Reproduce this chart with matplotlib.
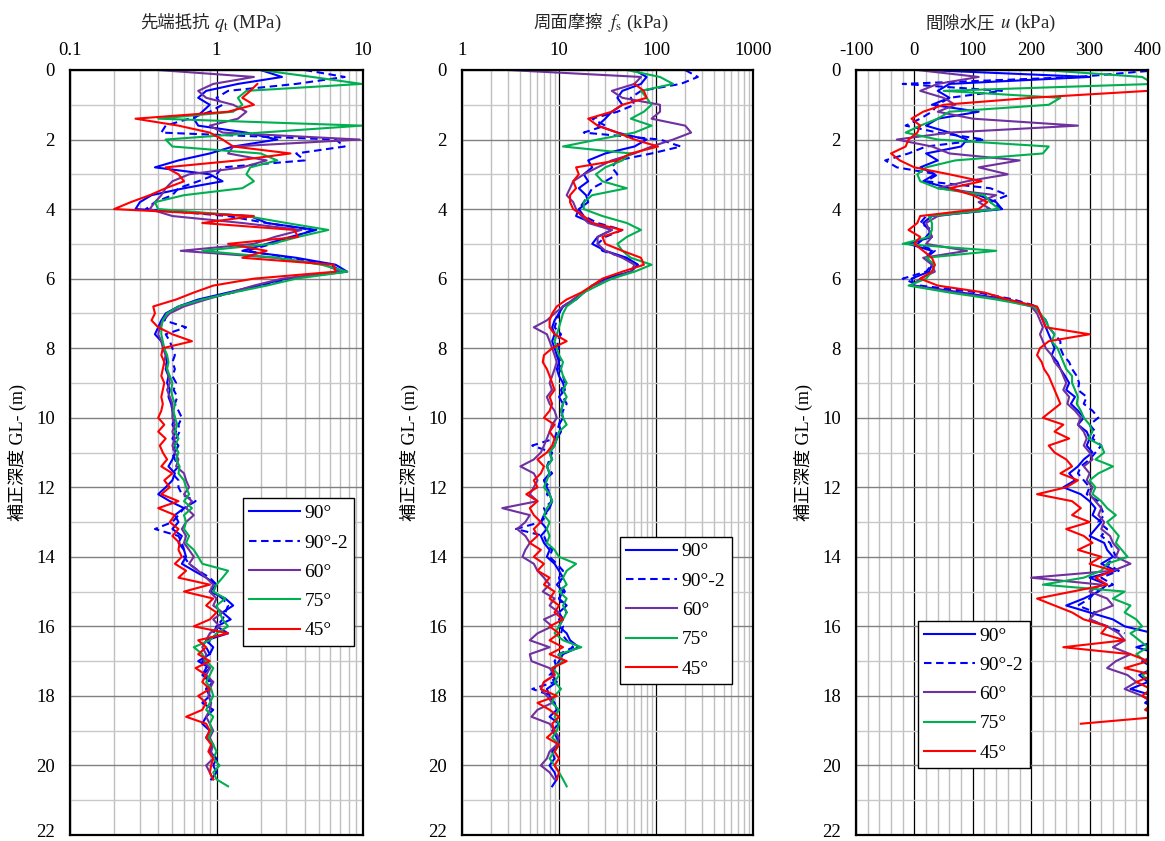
import numpy as np
import matplotlib.pyplot as plt
from matplotlib.ticker import FixedLocator, LogLocator, MultipleLocator, NullFormatter, FuncFormatter

plt.rcParams['font.family'] = ['Liberation Serif', 'Noto Sans CJK JP']
plt.rcParams['mathtext.fontset'] = 'stix'
plt.rcParams['axes.unicode_minus'] = False

# sounding depth (m), 0.2 m spacing
depth = np.round(np.arange(0, 20.61, 0.2), 1)

labels = ['90°', '90°-2', '60°', '75°', '45°']

# ---- cone resistance qt (MPa) ----
qt_90 = [
    2.0, 2.8, 1.4, 0.85, 0.75, 0.9, 0.8, 0.7, 0.75, 1.6,
    2.6, 1.3, 0.9, 0.55, 0.38, 0.9, 1.1, 0.6, 0.36, 0.3,
    0.28, 1.7, 2.2, 4.8, 3.2, 2.2, 1.5, 3.5, 6.5, 7.8,
    3.0, 1.9, 1.2, 0.75, 0.55, 0.45, 0.42, 0.40, 0.38, 0.42,
    0.44, 0.45, 0.46, 0.45, 0.47, 0.46, 0.48, 0.47, 0.49, 0.50,
    0.52, 0.50, 0.53, 0.50, 0.55, 0.52, 0.50, 0.47, 0.52, 0.50,
    0.45, 0.40, 0.48, 0.60, 0.52, 0.55, 0.50, 0.58, 0.55, 0.60,
    0.62, 0.58, 0.70, 0.85, 1.0, 0.9, 1.15, 1.3, 1.1, 1.25,
    1.0, 1.2, 0.85, 0.95, 0.9, 0.75, 0.9, 0.8, 0.95, 0.85,
    0.9, 0.8, 0.95, 0.85, 0.8, 0.9, 0.85, 0.95, 0.9, 1.0,
    0.95, 1.0, 0.92]
qt_90b = [
    4.0, 7.5, 3.5, 1.2, 1.0, 1.1, 0.9, 0.65, 0.45, 0.42,
    6.5, 7.5, 3.5, 4.0, 1.1, 1.0, 0.75, 0.55, 0.5, 0.38,
    0.33, 1.2, 2.2, 4.5, 3.4, 2.4, 1.6, 3.2, 6.0, 7.2,
    3.2, 2.0, 1.3, 0.8, 0.55, 0.47, 0.44, 0.62, 0.45, 0.48,
    0.5, 0.52, 0.5, 0.52, 0.5, 0.53, 0.51, 0.54, 0.52, 0.55,
    0.58, 0.55, 0.56, 0.53, 0.52, 0.5, 0.52, 0.55, 0.5, 0.55,
    0.55, 0.58, 0.72, 0.6, 0.55, 0.5, 0.38, 0.55, 0.58, 0.6,
    0.6, 0.65, 0.75, 0.9, 1.0, 0.95, 1.1, 1.2, 1.15, 1.1,
    1.0, 0.95, 0.9, 0.85, 0.9, 0.8, 0.85, 0.8, 0.9, 0.85,
    0.9]
qt_60 = [
    0.4, 1.8, 0.95, 0.75, 0.85, 1.3, 1.6, 1.4, 0.9, 1.1,
    9.5, 1.3, 1.2, 2.2, 1.5, 0.65, 0.5, 0.45, 0.42, 0.38,
    0.35, 0.5, 1.5, 3.8, 2.5, 1.8, 0.57, 2.5, 5.5, 7.0,
    2.8, 1.8, 1.25, 0.85, 0.6, 0.48, 0.43, 0.41, 0.4, 0.42,
    0.43, 0.45, 0.44, 0.46, 0.47, 0.48, 0.46, 0.48, 0.5, 0.5,
    0.5, 0.52, 0.5, 0.52, 0.5, 0.52, 0.55, 0.53, 0.6, 0.62,
    0.65, 0.6, 0.68, 0.62, 0.7, 0.62, 0.58, 0.62, 0.6, 0.65,
    0.7, 0.65, 0.75, 0.85, 0.95, 0.9, 1.0, 0.95, 1.1, 0.95,
    1.05, 0.9, 0.85, 0.8, 0.85, 0.82, 0.9, 0.85, 0.95, 0.9,
    0.88, 0.92, 0.9, 0.85, 0.9, 0.95, 0.9, 0.95, 0.92, 0.95,
    0.85, 0.9, 0.95]
qt_75 = [
    2.0, 4.5, 9.8, 1.6, 1.4, 1.5, 1.3, 0.4, 9.8, 2.0,
    0.45, 0.5, 2.0, 2.6, 1.7, 1.6, 1.8, 1.5, 0.6, 0.38,
    0.4, 1.6, 3.0, 5.8, 3.6, 2.4, 0.8, 2.6, 5.2, 7.8,
    3.5, 2.2, 1.3, 0.8, 0.55, 0.46, 0.43, 0.42, 0.42, 0.43,
    0.44, 0.46, 0.47, 0.46, 0.48, 0.5, 0.49, 0.5, 0.52, 0.51,
    0.52, 0.54, 0.52, 0.55, 0.52, 0.55, 0.53, 0.56, 0.55, 0.6,
    0.62, 0.65, 0.6, 0.68, 0.6, 0.62, 0.6, 0.65, 0.62, 0.7,
    0.75, 0.8, 1.2, 1.1, 1.0, 0.95, 1.15, 1.0, 1.05, 1.1,
    1.2, 1.0, 0.9, 0.7, 0.8, 0.85, 0.95, 0.9, 0.85, 0.92,
    0.95, 0.9, 0.85, 0.95, 0.9, 0.93, 0.88, 0.95, 1.0, 0.95,
    1.05, 0.95, 1.0, 1.2]
qt_45 = [
    None, None, 1.9, 1.7, 1.5, 1.8, 1.2, 0.28, 0.55, 0.9,
    1.1, 1.3, 3.2, 1.4, 0.45, 0.55, 0.6, 0.45, 0.35, 0.26,
    0.2, 1.8, 0.8, 3.4, 3.6, 1.2, 2.2, 1.5, 6.3, 6.5,
    1.8, 0.95, 0.7, 0.53, 0.37, 0.38, 0.36, 0.4, 0.5, 0.68,
    0.43, 0.42, 0.44, 0.43, 0.42, 0.44, 0.43, 0.42, 0.43, 0.42,
    0.4, 0.44, 0.4, 0.45, 0.41, 0.43, 0.46, 0.42, 0.5, 0.44,
    0.48, 0.42, 0.55, 0.4, 0.52, 0.48, 0.55, 0.5, 0.56, 0.55,
    0.58, 0.52, 0.62, 0.55, 0.9, 0.6, 0.95, 0.85, 1.0, 0.9,
    0.7, 1.2, 0.75, 0.85, 0.75, 0.9, 0.72, 0.85, 0.8, 0.9,
    0.75, 0.85, 0.8, 0.62, 0.85, 0.9, 0.85, 0.92, 0.88, 0.95,
    0.92, 0.9, 0.95]

# ---- sleeve friction fs (kPa) ----
fs_90 = [
    60, 80, 70, 45, 40, 45, 35, 30, 25, 40,
    80, 60, 30, 20, 22, 18, 20, 16, 19, 20,
    16, 15, 22, 35, 25, 22, 30, 50, 65, 55,
    30, 22, 18, 15, 11, 10, 9, 8.5, 9, 8.5,
    9, 9.5, 10, 9.5, 10, 11, 11.5, 10, 11, 10.5,
    11, 10, 10.5, 9.5, 9, 8, 8.5, 7.5, 8, 7,
    7.5, 8, 8.5, 8, 7, 6.5, 7.5, 6.5, 7, 8,
    7.5, 9, 10, 11, 9.5, 11, 10, 12, 10, 11,
    10, 12, 13, 16, 11, 10, 9, 8.5, 9.5, 7.5,
    8, 9, 9.5, 8, 10, 8.5, 9.5, 10, 8.5, 9,
    8, 9, 9.5, 8.5]
fs_90b = [
    200, 270, 180, 70, 55, 60, 40, 22, 30, 18,
    110, 180, 90, 40, 35, 40, 30, 22, 20, 18,
    16, 18, 25, 45, 30, 25, 28, 48, 65, 55,
    30, 22, 18, 14, 11, 10, 9.5, 9, 10.5, 9.5,
    10, 9.5, 10.5, 10, 11, 11.5, 10.5, 11, 12, 11,
    10.5, 10, 9.5, 9, 5.3, 8.5, 8, 7.5, 8.5, 7,
    8, 7.5, 8.5, 7, 7.5, 6.5, 3.6, 7, 7.5, 8.5,
    8, 9.5, 11, 10, 10.5, 11.5, 10, 11, 12, 10,
    11, 10.5, 12, 14, 10, 9, 9.5, 8, 9, 5.3,
    8.5]
fs_60 = [
    3, 70, 60, 35, 45, 110, 110, 90, 200, 230,
    150, 90, 60, 35, 25, 18, 14, 13, 12, 14,
    15, 17, 20, 35, 25, 25, 30, 45, 60, 55,
    35, 22, 18, 14, 11, 9, 7.5, 5.5, 7.5, 8,
    8.5, 9, 9.5, 9, 8.5, 8, 8.5, 7.5, 8, 9,
    9.5, 8.5, 8, 7.5, 7, 6.5, 5.5, 4.0, 5.5, 6,
    5.5, 5, 6, 2.6, 5, 4.5, 3.7, 4.5, 5, 4.5,
    4.2, 5.5, 6, 7, 8, 6.8, 9, 8, 10, 7,
    8.5, 6, 5, 8, 5, 5.2, 8, 9, 7, 6.5,
    7.5, 8.5, 6, 5.2, 8, 9, 10, 9.5, 8, 7.5,
    6.5, 8, 9]
fs_75 = [
    50, 110, 150, 70, 80, 90, 75, 55, 90, 60,
    25, 11, 55, 45, 30, 24, 28, 50, 22, 18,
    18, 28, 50, 70, 50, 40, 45, 55, 90, 60,
    35, 25, 18, 15, 12, 11, 10.5, 10, 9.5, 9,
    9.5, 10, 11, 10.5, 11, 12, 11, 12, 11, 10.5,
    11, 12, 10, 9.5, 9, 8, 8.5, 7.5, 8, 7.5,
    7, 8, 8.5, 7.5, 7, 8, 7.5, 8, 7.5, 9,
    10, 15, 12, 11, 12, 10, 12, 11, 12, 11,
    10, 9, 11, 17, 10, 11, 8.5, 10, 9, 10.5,
    9, 8.5, 10, 9, 10, 9.5, 8.5, 10, 9, 8,
    9, 10, 11, 12]
fs_45 = [
    None, None, 60, 75, 80, 45, 35, 20, 25, 40,
    60, 105, 55, 40, 15, 16, 14, 15, 13, 13,
    14, 18, 22, 45, 28, 30, 45, 70, 75, 45,
    28, 22, 17, 12, 9.5, 8.5, 8, 8, 9, 12,
    8.5, 7, 6.8, 7.5, 8, 8.5, 9, 8, 8.5, 8,
    7, 9, 8, 9, 8.5, 7.5, 6, 7, 6.5, 5.5,
    6, 4.6, 6, 5, 5.5, 6.5, 5.5, 6, 5, 6.5,
    5.5, 7, 6, 8, 7, 9, 8, 10, 9, 11,
    8, 10, 8, 11, 8, 12, 8.5, 9, 7, 6.5,
    9.5, 6, 8, 10, 8.5, 9, 7.5, 10, 9, 10,
    9, 10, 9.5]

# ---- pore water pressure u (kPa) ----
u_90 = [
    20, 300, 60, 40, 60, 30, 110, 40, 20, 60,
    90, 80, 20, 40, 10, 35, 15, 60, 110, 140,
    150, 30, 15, 25, 30, -10, 30, 20, 30, 25,
    -5, 0, 80, 160, 205, 215, 220, 225, 230, 235,
    240, 235, 245, 250, 258, 265, 260, 275, 268, 280,
    290, 280, 295, 300, 295, 305, 290, 280, 265, 275,
    255, 285, 300, 310, 305, 320, 310, 300, 325, 330,
    340, 320, 345, 300, 330, 315, 290, 260, 300, 340,
    360, 410, 420, 380, 420, 390, 410, 385, 400, 370,
    410, 395, 420]
u_90b = [
    420, 280, -20, 150, 60, 40, 30, 10, -15, 40,
    120, 20, -10, -50, -30, 40, 20, 130, 160, 130,
    150, 20, 10, 30, 20, 5, 35, 20, 30, 20,
    -20, 10, 110, 170, 210, 215, 225, 230, 240, 250,
    250, 255, 265, 270, 278, 282, 280, 295, 290, 305,
    315, 300, 310, 305, 320, 310, 300, 285, 280, 290,
    300, 295, 315, 320, 325, 315, 330, 320, 335, 340,
    345, 330, 350, 320, 340, 310, 300, 280, 310, 300,
    330, 360]
u_60 = [
    5, 110, 40, 10, 50, 70, 40, 100, 280, 60,
    -30, 30, 60, 180, 110, 160, 90, 40, 140, 110,
    130, 40, 20, 25, 30, 20, 90, 15, 30, 35,
    10, -5, 70, 150, 200, 210, 215, 220, 215, 220,
    225, 235, 240, 250, 255, 260, 255, 265, 262, 275,
    285, 280, 290, 295, 290, 300, 305, 290, 300, 295,
    305, 300, 310, 320, 315, 325, 320, 335, 340, 350,
    345, 370, 340, 200, 320, 300, 330, 340, 310, 300,
    330, 350, 360, 340, 370, 345, 330, 365, 380, 360,
    390, 410]
u_75 = [
    220, 390, 410, 50, 250, 230, 60, 40, 10, -15,
    40, 230, 220, 70, 20, 5, 10, 40, 120, 130,
    145, 25, 30, 30, 25, -20, 140, 20, 35, 30,
    20, -10, 60, 140, 205, 215, 225, 230, 240, 235,
    245, 250, 255, 260, 270, 270, 275, 280, 278, 285,
    290, 300, 305, 298, 320, 325, 310, 340, 315, 300,
    310, 305, 320, 330, 345, 330, 340, 350, 345, 355,
    365, 330, 320, 290, 220, 360, 340, 370, 360, 380,
    390, 370, 385, 400, 380, 395, 410, 390, 405, 400,
    410, 420]
u_45 = [
    None, None, None, 400, 200, 50, 15, -5, 10, 5,
    -10, -15, -40, -25, 0, 60, 115, 60, 100, 125,
    110, 10, 5, -10, 10, 0, 15, 30, 35, 30,
    10, 40, 120, 160, 210, 215, 220, 225, 300, 230,
    215, 210, 218, 222, 230, 235, 240, 245, 250, 235,
    220, 255, 240, 265, 230, 240, 260, 270, 250, 280,
    260, 210, 270, 285, 270, 300, 260, 290, 305, 280,
    320, 300, 340, 310, 330, 270, 210, 240, 270, 290,
    330, 320, 360, 255, 370, 400, 360, 410, 380, 405,
    390, 410, 395, 420, 285]

colors = ['#0000ff', '#0000ff', '#7030a0', '#00b050', '#ff0000']
styles = ['-', (0, (3.6, 2.2)), '-', '-', '-']

W, H = 1165, 841
fig = plt.figure(figsize=(W / 100, H / 100), dpi=100)


def add_axes_px(left, right, top=70, bottom=835):
    return fig.add_axes([left / W, 1 - bottom / H, (right - left) / W, (bottom - top) / H])


def draw_profiles(ax, series):
    for vals, lab, c, ls in zip(series, labels, colors, styles):
        v = np.array(vals, dtype=float)
        ax.plot(v, depth[:len(v)], color=c, ls=ls, lw=1.5, label=lab)


# the deepest label is drawn separately, nudged up so it stays on the canvas
depth_fmt = FuncFormatter(lambda v, p: '' if v >= 22 else '%g' % v)


def style_axis(ax):
    ax.set_ylim(22, 0)
    ax.yaxis.set_major_locator(MultipleLocator(2))
    ax.yaxis.set_minor_locator(MultipleLocator(1))
    ax.yaxis.set_major_formatter(depth_fmt)
    ax.xaxis.tick_top()
    ax.tick_params(which='both', length=0, labelsize=13.5)
    ax.tick_params(axis='x', pad=8)
    ax.tick_params(axis='y', pad=11)
    ax.xaxis.set_minor_formatter(NullFormatter())
    ax.set_axisbelow(True)
    ax.grid(True, which='major', axis='x', color='black', lw=0.9)
    ax.grid(True, which='minor', axis='x', color='#bfbfbf', lw=1.0)
    ax.grid(True, which='major', axis='y', color='#808080', lw=1.0)
    ax.grid(True, which='minor', axis='y', color='#c8c8c8', lw=1.0)
    for s in ax.spines.values():
        s.set_linewidth(1.6)
        s.set_color('black')
    ax.annotate('22', xy=(0, 22), xycoords=('axes fraction', 'data'),
                xytext=(-11, 3), textcoords='offset points',
                ha='right', va='center_baseline', fontsize=13.5)
    ax.set_ylabel('補正深度 GL- (m)', fontsize=13)
    ax.yaxis.set_label_coords(-43 / (ax.get_position().width * W), 0.5)


def add_legend(ax, x0, ytop):
    leg = ax.legend(loc='upper left', bbox_to_anchor=(x0, ytop), borderaxespad=0,
                    fancybox=False, framealpha=1, edgecolor='black', fontsize=14,
                    handlelength=2.6, handletextpad=0.25, borderpad=0.32, labelspacing=0.6)
    leg.get_frame().set_linewidth(1.0)


fmt = FuncFormatter(lambda v, p: '%g' % v)

# cone resistance
ax1 = add_axes_px(70, 363)
draw_profiles(ax1, [qt_90, qt_90b, qt_60, qt_75, qt_45])
ax1.set_xscale('log')
ax1.set_xlim(0.1, 10)
ax1.xaxis.set_major_locator(FixedLocator([0.1, 1, 10]))
ax1.xaxis.set_minor_locator(LogLocator(base=10, subs=range(2, 10)))
ax1.xaxis.set_major_formatter(fmt)
style_axis(ax1)
add_legend(ax1, 0.59, 0.44)

# sleeve friction
ax2 = add_axes_px(462, 753)
draw_profiles(ax2, [fs_90, fs_90b, fs_60, fs_75, fs_45])
ax2.set_xscale('log')
ax2.set_xlim(1, 1000)
ax2.xaxis.set_major_locator(FixedLocator([1, 10, 100, 1000]))
ax2.xaxis.set_minor_locator(LogLocator(base=10, subs=range(2, 10)))
ax2.xaxis.set_major_formatter(fmt)
style_axis(ax2)
add_legend(ax2, 0.543, 0.39)

# pore pressure
ax3 = add_axes_px(856, 1148)
draw_profiles(ax3, [u_90, u_90b, u_60, u_75, u_45])
ax3.set_xlim(-100, 400)
ax3.xaxis.set_major_locator(MultipleLocator(100))
ax3.xaxis.set_minor_locator(MultipleLocator(20))
ax3.xaxis.set_major_formatter(fmt)
style_axis(ax3)
add_legend(ax3, 0.212, 0.28)

# axis titles above the top tick labels: Japanese part + symbol part
renderer = fig.canvas.get_renderer()
for jp, sym, x_start in [('先端抵抗', r'$q_\mathrm{t}$ (MPa)', 140),
                         ('周面摩擦', r'$f_\mathrm{s}$ (kPa)', 533),
                         ('間隙水圧', r'$u$ (kPa)', 925)]:
    t1 = fig.text(x_start / W, 1 - 28 / H, jp, fontsize=12.5, va='baseline', ha='left',
                  color='#262626')
    w1 = t1.get_window_extent(renderer).width
    fig.text((x_start + w1 + 5) / W, 1 - 28 / H, sym, fontsize=13.5, va='baseline',
             ha='left', color='#262626')

fig.savefig('out.png', dpi=100)
